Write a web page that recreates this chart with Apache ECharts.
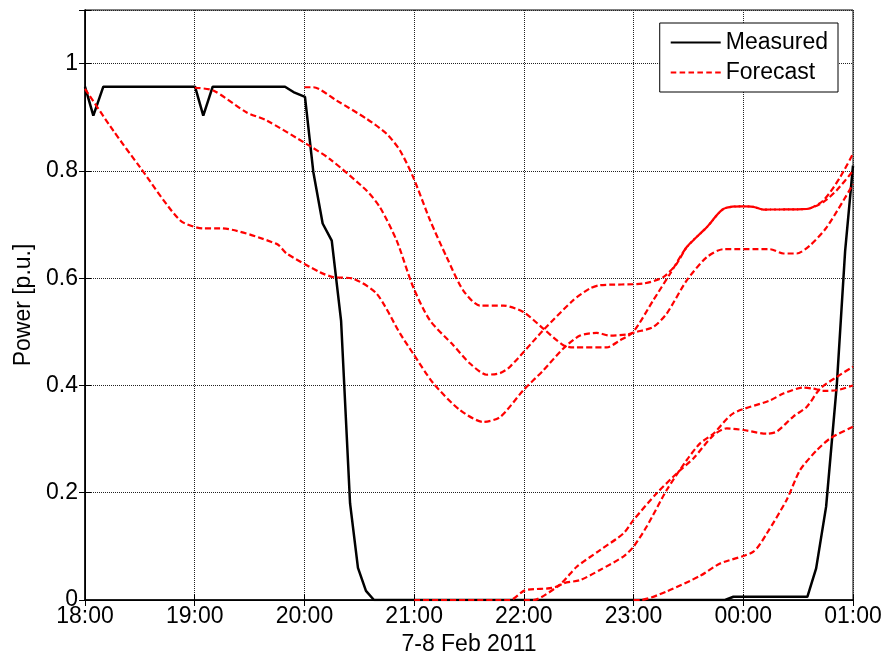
<!DOCTYPE html>
<html>
<head>
<meta charset="utf-8">
<script src="https://cdn.jsdelivr.net/npm/echarts@6/dist/echarts.min.js"></script>
<style>
html,body{margin:0;padding:0;background:#fff;}
#chart{width:889px;height:659px;}
</style>
</head>
<body>
<div id="chart"></div>
<script>
// hours after 18:00 on the x axis
const xTickLabels = ['18:00','19:00','20:00','21:00','22:00','23:00','00:00','01:00'];
const xTitle = '7-8 Feb 2011';
const yTitle = 'Power [p.u.]';

const measured = [
  [0,0.957],[0.076,0.903],[0.167,0.957],[1.003,0.957],[1.078,0.903],[1.164,0.957],
  [1.823,0.957],[1.9,0.947],[2.005,0.938],[2.081,0.798],[2.166,0.702],[2.249,0.670],
  [2.334,0.521],[2.416,0.18],[2.488,0.06],[2.561,0.017],[2.634,0],[5.834,0],
  [5.91,0.006],[6.584,0.006],[6.664,0.059],[6.755,0.174],[6.852,0.40],[6.928,0.65],[7.0,0.81]
];

const forecast18 = [
  [0,0.953],[0.258,0.875],[0.501,0.807],[0.866,0.708],[1.076,0.693],[1.231,0.693],
  [1.747,0.664],[1.838,0.646],[2.142,0.611],[2.263,0.602],[2.446,0.599],[2.659,0.571],
  [2.871,0.497],[2.992,0.459],[3.175,0.404],[3.418,0.354],[3.63,0.332],[3.783,0.341],
  [3.995,0.391],[4.177,0.428],[4.36,0.469],[4.512,0.493],[4.664,0.498],[4.785,0.493],
  [4.938,0.495],[5.029,0.50],[5.18,0.509],[5.302,0.534],[5.485,0.596],[5.667,0.639],
  [5.818,0.654],[6.244,0.654],[6.365,0.646],[6.487,0.646],[6.608,0.661],[6.761,0.695],[7.0,0.775]
];

const forecast19 = [
  [1.0,0.955],[1.169,0.950],[1.474,0.909],[1.656,0.894],[2.021,0.850],[2.233,0.822],
  [2.568,0.763],[2.689,0.732],[2.841,0.670],[2.992,0.583],[3.145,0.521],[3.357,0.475],
  [3.509,0.441],[3.662,0.420],[3.783,0.423],[3.874,0.435],[4.177,0.503],[4.451,0.559],
  [4.603,0.581],[4.694,0.587],[5.089,0.59],[5.271,0.602],[5.393,0.627],[5.485,0.658],
  [5.667,0.695],[5.818,0.729],[5.97,0.734],[6.091,0.733],[6.183,0.728],[6.578,0.729],
  [6.73,0.745],[6.882,0.788],[7.0,0.832]
];

const forecast20 = [
  [2.0,0.956],[2.081,0.956],[2.294,0.931],[2.568,0.897],[2.75,0.869],[2.871,0.838],
  [2.992,0.788],[3.145,0.708],[3.297,0.639],[3.448,0.577],[3.6,0.549],[3.813,0.549],
  [3.995,0.537],[4.177,0.506],[4.36,0.475],[4.451,0.471],[4.755,0.471],[4.876,0.484],
  [4.998,0.50],[5.18,0.559],[5.332,0.608],[5.485,0.658],[5.667,0.695],[5.818,0.729],
  [5.97,0.734],[6.091,0.733],[6.183,0.728],[6.578,0.729],[6.73,0.742],[6.852,0.764],[7.0,0.80]
];

const forecast21 = [
  [3.0,0],[3.874,0],[4.01,0.018],[4.3,0.025],[4.482,0.062],[4.694,0.093],[4.907,0.124],
  [4.998,0.149],[5.211,0.199],[5.393,0.236],[5.545,0.264],[5.727,0.307],[5.849,0.320],
  [6.0,0.317],[6.214,0.310],[6.305,0.314],[6.456,0.342],[6.578,0.36],[6.7,0.394],
  [6.852,0.416],[7.0,0.435]
];

const forecast22 = [
  [4.0,0],[4.086,0],[4.36,0.031],[4.512,0.037],[4.694,0.056],[4.907,0.081],[4.998,0.099],
  [5.12,0.137],[5.302,0.205],[5.485,0.261],[5.606,0.292],[5.727,0.31],[5.909,0.348],
  [6.244,0.372],[6.365,0.385],[6.548,0.396],[6.639,0.394],[6.73,0.390],[6.852,0.391],[7.0,0.40]
];

const forecast23 = [
  [5.0,0],[5.059,0],[5.302,0.016],[5.606,0.045],[5.788,0.068],[6.091,0.09],[6.214,0.124],
  [6.396,0.187],[6.517,0.242],[6.669,0.279],[6.79,0.301],[7.0,0.323]
];

const forecasts = [forecast18, forecast19, forecast20, forecast21, forecast22, forecast23];

const FONT = 'Liberation Sans, Arial, sans-serif';
const chart = echarts.init(document.getElementById('chart'), null, {renderer:'canvas'});

// legend icons: solid bar and dashed bar (path in 50x2 units)
const solidIcon = 'path://M0,0H50V2H0Z';
let dashPath = '';
for (let x = 0; x + 5 <= 50; x += 8) dashPath += 'M' + x + ',0h5v2h-5Z';
const dashIcon = 'path://' + dashPath;

const fSeries = forecasts.map(d => ({
  name: 'Forecast', type: 'line', data: d, symbol: 'none', smooth: 0.25,
  lineStyle: {color: '#ff0000', width: 2.2, type: [6, 3]},
  itemStyle: {color: '#ff0000'}, z: 3
}));

chart.setOption({
  animation: false,
  backgroundColor: '#fff',
  grid: {left: 85, right: 36, top: 10, bottom: 59, show: true, borderColor: '#000', borderWidth: 1,
    containLabel: false, outerBoundsMode: 'none'},
  legend: {
    data: [{name: 'Measured', icon: solidIcon}, {name: 'Forecast', icon: dashIcon}],
    orient: 'vertical', right: 51, top: 23,
    backgroundColor: '#fff', borderColor: '#000', borderWidth: 1,
    padding: [8, 10, 8, 11], itemWidth: 50, itemHeight: 2.2, itemGap: 7,
    symbolKeepAspect: false,
    textStyle: {fontFamily: FONT, fontSize: 23, color: '#000'}
  },
  xAxis: [{
    type: 'value', min: 0, max: 7, interval: 1,
    name: xTitle, nameLocation: 'middle', nameGap: 32,
    nameTextStyle: {fontFamily: FONT, fontSize: 23, color: '#000'},
    axisLine: {show: true, lineStyle: {color: '#000', width: 1.5}},
    axisTick: {show: true, inside: true, length: 6, lineStyle: {color: '#000'}},
    axisLabel: {fontFamily: FONT, fontSize: 23, color: '#000', margin: 5,
      formatter: v => xTickLabels[Math.round(v)]},
    splitLine: {show: true, lineStyle: {color: '#222', width: 1, type: [1, 1]}}
  }, {
    type: 'value', min: 0, max: 7, interval: 1, position: 'top',
    axisLine: {show: true, lineStyle: {color: '#000', width: 1}},
    axisTick: {show: true, inside: true, length: 6, lineStyle: {color: '#000'}},
    axisLabel: {show: false}, splitLine: {show: false}
  }],
  yAxis: [{
    type: 'value', min: 0, max: 1.1, interval: 0.2,
    name: yTitle, nameLocation: 'middle', nameGap: 50,
    nameTextStyle: {fontFamily: FONT, fontSize: 23, color: '#000'},
    axisLine: {show: true, lineStyle: {color: '#000', width: 1.5}},
    axisTick: {show: true, inside: true, length: 6, lineStyle: {color: '#000'}},
    axisLabel: {fontFamily: FONT, fontSize: 23, color: '#000', margin: 7,
      formatter: v => (v > 1.05 ? '' : String(+v.toFixed(1)))},
    splitLine: {show: true, lineStyle: {color: '#222', width: 1, type: [1, 1]}}
  }, {
    type: 'value', min: 0, max: 1.1, interval: 0.2, position: 'right',
    axisLine: {show: true, lineStyle: {color: '#000', width: 1}},
    axisTick: {show: true, inside: true, length: 6, lineStyle: {color: '#000'}},
    axisLabel: {show: false}, splitLine: {show: false}
  }],
  series: [{
    name: 'Measured', type: 'line', data: measured, symbol: 'none',
    lineStyle: {color: '#000', width: 2.5}, itemStyle: {color: '#000'}, z: 2
  }].concat(fSeries)
});
</script>
</body>
</html>
